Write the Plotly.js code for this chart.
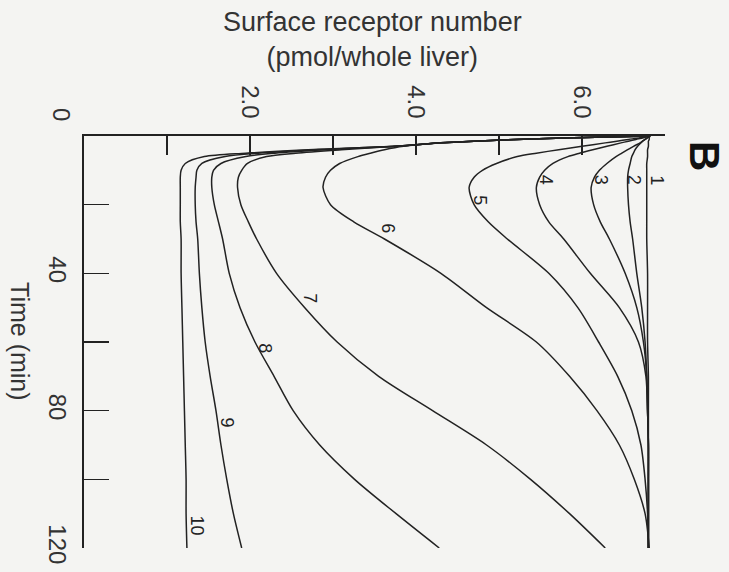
<!DOCTYPE html>
<html>
<head>
<meta charset="utf-8">
<script src="https://cdn.plot.ly/plotly-3.0.1.min.js"></script>
<style>
html,body{margin:0;padding:0;background:#f4f4f2;}
#chart{width:729px;height:572px;}
</style>
</head>
<body>
<div id="chart"></div>
<script>
// Time (min) sample points shared by all curves
const timeMin = [0, 0.5, 1, 1.5, 2, 3, 4, 5, 6, 8, 10, 12, 15, 20, 25, 30, 40, 50, 60, 70, 80, 90, 100, 110, 120];

// Surface receptor number (pmol/whole liver) for curves 1..10
const curve1  = [6.82, 6.81, 6.81, 6.80, 6.80, 6.80, 6.79, 6.79, 6.79, 6.78, 6.78, 6.78, 6.78, 6.78, 6.78, 6.78, 6.79, 6.79, 6.79, 6.80, 6.80, 6.80, 6.80, 6.80, 6.80];
const curve2  = [6.82, 6.79, 6.76, 6.73, 6.71, 6.67, 6.64, 6.62, 6.60, 6.58, 6.56, 6.55, 6.55, 6.56, 6.58, 6.61, 6.66, 6.72, 6.76, 6.78, 6.79, 6.80, 6.80, 6.80, 6.80];
const curve3  = [6.82, 6.79, 6.76, 6.73, 6.70, 6.62, 6.55, 6.48, 6.41, 6.30, 6.21, 6.15, 6.11, 6.14, 6.22, 6.33, 6.52, 6.66, 6.74, 6.78, 6.79, 6.80, 6.80, 6.80, 6.80];
const curve4  = [6.82, 6.74, 6.65, 6.56, 6.47, 6.30, 6.13, 5.97, 5.83, 5.65, 5.55, 5.49, 5.45, 5.49, 5.60, 5.78, 6.10, 6.45, 6.68, 6.77, 6.79, 6.80, 6.80, 6.80, 6.80];
const curve5  = [6.82, 6.70, 6.56, 6.42, 6.28, 6.00, 5.72, 5.45, 5.22, 4.97, 4.80, 4.70, 4.64, 4.70, 4.87, 5.10, 5.60, 5.95, 6.20, 6.43, 6.60, 6.71, 6.76, 6.79, 6.80];
const curve6  = [6.82, 5.90, 5.20, 4.70, 4.30, 3.85, 3.62, 3.45, 3.30, 3.08, 2.97, 2.91, 2.88, 2.97, 3.25, 3.62, 4.30, 4.85, 5.45, 5.85, 6.18, 6.45, 6.63, 6.76, 6.81];
const curve7  = [6.82, 5.90, 5.20, 4.70, 4.30, 3.75, 3.10, 2.55, 2.20, 1.97, 1.90, 1.86, 1.85, 1.89, 1.98, 2.08, 2.32, 2.66, 3.05, 3.55, 4.20, 4.85, 5.38, 5.85, 6.28];
const curve8  = [6.82, 5.90, 5.20, 4.70, 4.30, 3.75, 2.90, 2.30, 1.95, 1.65, 1.56, 1.54, 1.54, 1.57, 1.62, 1.67, 1.75, 1.88, 2.06, 2.29, 2.52, 2.84, 3.26, 3.76, 4.28];
const curve9  = [6.82, 5.90, 5.20, 4.70, 4.30, 3.75, 2.80, 2.10, 1.70, 1.42, 1.36, 1.35, 1.34, 1.34, 1.35, 1.37, 1.39, 1.42, 1.46, 1.52, 1.59, 1.65, 1.72, 1.80, 1.90];
const curve10 = [6.82, 5.90, 5.20, 4.70, 4.30, 3.75, 2.70, 1.95, 1.45, 1.22, 1.17, 1.16, 1.16, 1.16, 1.16, 1.17, 1.17, 1.18, 1.19, 1.20, 1.21, 1.22, 1.23, 1.23, 1.24];
const curves = [curve1, curve2, curve3, curve4, curve5, curve6, curve7, curve8, curve9, curve10];

// Curve label text and their anchor positions (receptor, time)
const curveLabels = ['1','2','3','4','5','6','7','8','9','10'];
const labelReceptor = [6.90, 6.63, 6.23, 5.57, 4.77, 3.66, 2.72, 2.18, 1.72, 1.36];
const labelTime = [12.8, 12.8, 12.8, 12.8, 18.7, 26.8, 47.2, 61.8, 83.4, 113.4];

// Axis ticks
const receptorTicks = [1, 2, 3, 4, 5, 6, 7];
const receptorTickText = ['', '2.0', '', '4.0', '', '6.0', ''];
const timeTicks = [20, 40, 60, 80, 100, 120];
const timeTickText = ['', '40', '', '80', '', '120'];

const ink = '#222';
const FONT = 'Liberation Sans, Arial, Helvetica, sans-serif';

const traces = curves.map((vals, i) => ({
  type: 'scatter',
  mode: 'lines',
  x: vals,
  y: timeMin,
  line: {color: ink, width: 1.5, shape: 'spline', smoothing: 0.8},
  name: curveLabels[i],
  hoverinfo: 'skip'
}));

const annotations = curveLabels.map((t, i) => ({
  x: labelReceptor[i], y: labelTime[i], xref: 'x', yref: 'y',
  xanchor: 'center', yanchor: 'middle',
  text: t, showarrow: false, textangle: 90,
  font: {family: FONT, size: 18, color: ink}
}));

annotations.push(
  {x: -0.0396, y: 1.051, xref: 'paper', yref: 'paper', xanchor: 'center', yanchor: 'middle',
   text: '0', showarrow: false, textangle: 90, font: {family: FONT, size: 24, color: '#333'}},
  {x: -0.110, y: 0.502, xref: 'paper', yref: 'paper', xanchor: 'center', yanchor: 'middle',
   text: 'Time (min)', showarrow: false, textangle: 90, font: {family: FONT, size: 25, color: '#333'}},
  {x: 1.069, y: 0.951, xref: 'paper', yref: 'paper', xanchor: 'center', yanchor: 'middle',
   text: '<b>B</b>', showarrow: false, textangle: 90, font: {family: FONT, size: 42, color: '#111'}},
  {x: 0.497, y: 1.235, xref: 'paper', yref: 'paper', xanchor: 'center', yanchor: 'middle',
   text: 'Surface receptor number<br>(pmol/whole liver)', showarrow: false,
   font: {family: FONT, size: 27, color: '#333'}}
);

const layout = {
  width: 729, height: 572,
  paper_bgcolor: '#f4f4f2', plot_bgcolor: '#f4f4f2',
  margin: {l: 84, r: 64, t: 136, b: 24},
  showlegend: false,
  xaxis: {
    range: [0, 7], side: 'top',
    tickmode: 'array', tickvals: receptorTicks, ticktext: receptorTickText,
    ticks: 'inside', ticklen: 19, tickwidth: 1.5, tickcolor: ink,
    showline: true, linecolor: ink, linewidth: 2,
    showgrid: false, zeroline: false, tickangle: 90,
    tickfont: {family: FONT, size: 24, color: '#333'},
    ticklabelstandoff: 7
  },
  yaxis: {
    range: [120, 0],
    tickmode: 'array', tickvals: timeTicks, ticktext: timeTickText,
    ticks: 'inside', ticklen: 25, tickwidth: 1.5, tickcolor: ink,
    showline: true, linecolor: ink, linewidth: 2,
    showgrid: false, zeroline: false, tickangle: 90,
    tickfont: {family: FONT, size: 24, color: '#333'},
    ticklabelstandoff: 4
  },
  annotations: annotations
};

Plotly.newPlot('chart', traces, layout, {displayModeBar: false, staticPlot: true});
</script>
</body>
</html>
